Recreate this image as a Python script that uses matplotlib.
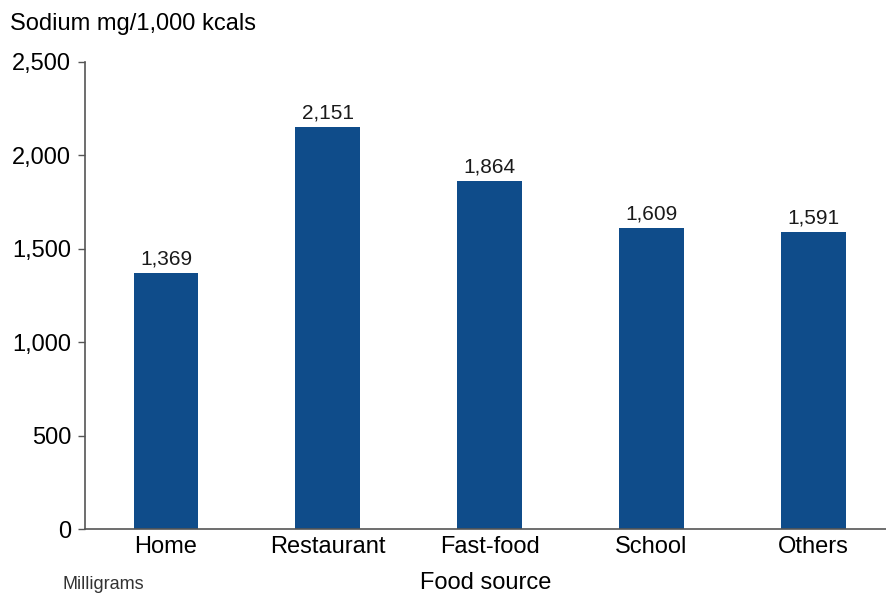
import matplotlib.pyplot as plt

plt.rcParams['font.family'] = ['Liberation Sans', 'DejaVu Sans']

# Data
sources = ["Home", "Restaurant", "Fast-food", "School", "Others"]
sodium = [1369, 2151, 1864, 1609, 1591]
yticks = [0, 500, 1000, 1500, 2000, 2500]

fig = plt.figure(figsize=(8.86, 5.94), dpi=100)
ax = fig.add_axes([0.096, 0.109, 0.904, 0.787])

x = range(len(sources))
ax.bar(x, sodium, width=0.4, color='#0f4c8a', zorder=2)

for xi, v in zip(x, sodium):
    ax.text(xi, v + 25, f"{v:,}", ha='center', va='bottom', fontsize=15, color='#1a1a1a')

ax.set_xlim(-0.5, 4.45)
ax.set_ylim(0, 2500)
ax.set_yticks(yticks)
ax.set_yticklabels([f"{t:,}" for t in yticks])
ax.set_xticks(list(x))
ax.set_xticklabels(sources)

ax.tick_params(axis='y', length=5, width=1, color='#555555', labelsize=17, pad=5)
ax.tick_params(axis='x', length=0, labelsize=17, pad=5)

for side in ['top', 'right']:
    ax.spines[side].set_visible(False)
for side in ['left', 'bottom']:
    ax.spines[side].set_color('#555555')
    ax.spines[side].set_linewidth(1.2)

ax.set_xlabel("Food source", fontsize=17, labelpad=10)
fig.text(0.011, 0.96, "Sodium mg/1,000 kcals", fontsize=17, ha='left', va='center')
fig.text(0.07, 0.001, "Milligrams", fontsize=13, ha='left', va='bottom', color='#333333')

fig.savefig("out.png", dpi=100)
